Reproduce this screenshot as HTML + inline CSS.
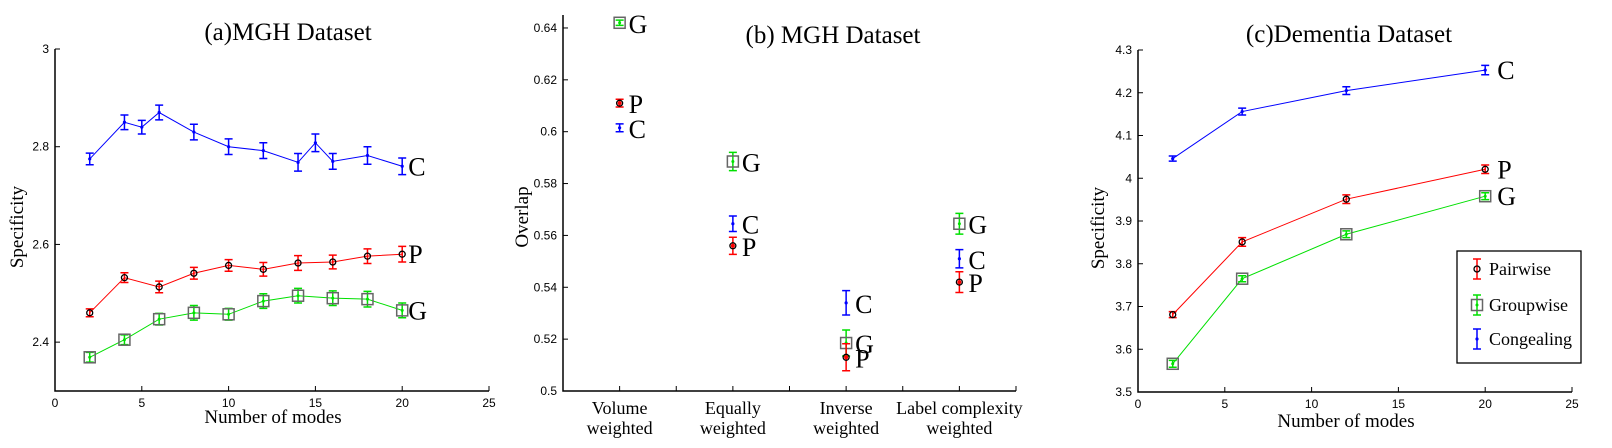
<!DOCTYPE html>
<html><head><meta charset="utf-8"><style>
html,body{margin:0;padding:0;background:#fff;}
svg{display:block;}
text{font-family:"Liberation Serif",serif;fill:#000;}
.tk{font-family:"Liberation Sans",sans-serif;font-size:12px;}
</style></head><body>
<svg id="fig" width="1612" height="448" viewBox="0 0 1612 448" xmlns="http://www.w3.org/2000/svg">
<g id="pa"></g>
<g id="pb"></g>
<g id="pc"></g>
</svg>
<script>
// Panel (a) data
const aCx = [2,4,5,6,8,10,12,14,15,16,18,20];
const aC = [2.775,2.85,2.84,2.87,2.83,2.80,2.792,2.768,2.808,2.77,2.782,2.76];
const aCerr = [0.012,0.015,0.014,0.015,0.016,0.016,0.016,0.018,0.018,0.016,0.018,0.017];
const aPx = [2,4,6,8,10,12,14,16,18,20];
const aP = [2.46,2.532,2.513,2.541,2.557,2.549,2.562,2.564,2.576,2.58];
const aPerr = [0.008,0.01,0.012,0.012,0.012,0.014,0.015,0.014,0.015,0.016];
const aG = [2.369,2.405,2.447,2.46,2.457,2.484,2.495,2.49,2.488,2.465];
const aGerr = [0.01,0.01,0.012,0.015,0.012,0.015,0.015,0.015,0.016,0.015];
const aXTicks = [0,5,10,15,20,25];
const aYTicks = [2.4,2.6,2.8,3];
// Panel (b) data
const bCats = [["Volume","weighted"],["Equally","weighted"],["Inverse","weighted"],["Label complexity","weighted"]];
const bG = [0.642,0.5885,0.5185,0.5645];
const bGerr = [0.001,0.0035,0.005,0.004];
const bP = [0.611,0.556,0.513,0.542];
const bPerr = [0.0015,0.0033,0.0052,0.004];
const bC = [0.6015,0.5645,0.534,0.551];
const bCerr = [0.0015,0.003,0.0047,0.0035];
const bYTicks = [0.5,0.52,0.54,0.56,0.58,0.6,0.62,0.64];
const bYLabels = ["0.5","0.52","0.54","0.56","0.58","0.6","0.62","0.64"];
// Panel (c) data
const cX = [2,6,12,20];
const cC = [4.046,4.156,4.205,4.253];
const cCerr = [0.006,0.008,0.009,0.011];
const cP = [3.681,3.851,3.951,4.021];
const cPerr = [0.007,0.01,0.01,0.01];
const cG = [3.566,3.765,3.869,3.958];
const cGerr = [0.008,0.007,0.008,0.008];
const cXTicks = [0,5,10,15,20,25];
const cYTicks = [3.5,3.6,3.7,3.8,3.9,4,4.1,4.2,4.3];

const NS="http://www.w3.org/2000/svg";
function mk(parent,tag,attrs,txt){const e=document.createElementNS(NS,tag);for(const k in attrs)e.setAttribute(k,attrs[k]);if(txt!==undefined)e.textContent=txt;parent.appendChild(e);return e;}
const COL={C:"#0000ff",P:"#ff0000",G:"#00e000"};

function axes(g,L,R,T,B,xs,ys,xt,yt,ytl){
  const ax=mk(g,'path',{d:`M${L},${T}L${L},${B}L${R},${B}`,fill:'none',stroke:'#000','stroke-width':1.5});
  
  
  if(xt) xt.forEach(v=>{const x=xs(v);mk(g,'line',{x1:x,x2:x,y1:B,y2:B-5,stroke:'#000'});
    const t=mk(g,'text',{x:x,y:B+16,'text-anchor':'middle',class:'tk'},String(v));
    
    });
  yt.forEach((v,i)=>{const y=ys(v);mk(g,'line',{x1:L,x2:L+5,y1:y,y2:y,stroke:'#000'});
    const t=mk(g,'text',{x:L-6,y:y+4,'text-anchor':'end',class:'tk'},ytl?ytl[i]:String(v));
    
    });
}
function errbar(g,x,y1,y2,col){mk(g,'path',{d:`M${x},${y1}L${x},${y2}M${x-4},${y1}L${x+4},${y1}M${x-4},${y2}L${x+4},${y2}`,stroke:col,'stroke-width':1.5,fill:'none'});}
function marker(g,type,x,y){
  if(type==='P'){mk(g,'circle',{cx:x,cy:y,r:3,fill:'none',stroke:'#000','stroke-width':1.3});}
  else if(type==='G'){mk(g,'rect',{x:x-5.5,y:y-5.5,width:11,height:11,fill:'none',stroke:'#666','stroke-width':1.5});mk(g,'circle',{cx:x,cy:y,r:1.5,fill:COL.G});}
  else {mk(g,'circle',{cx:x,cy:y,r:1.6,fill:COL.C});}
}
function series(g,name,type,xsArr,vals,errs,xs,ys,line,lblOff){
  const sg=mk(g,'g',{});
  
  
  if(line){let d='';xsArr.forEach((xv,i)=>{d+=(i?'L':'M')+xs(xv)+','+ys(vals[i]);});mk(sg,'path',{d:d,fill:'none',stroke:COL[type],'stroke-width':1});}
  xsArr.forEach((xv,i)=>{const x=xs(xv);errbar(sg,x,ys(vals[i]+errs[i]),ys(vals[i]-errs[i]),COL[type]);marker(sg,type,x,ys(vals[i]));});
  if(lblOff){const n=xsArr.length-1;const t=mk(sg,'text',{x:xs(xsArr[n])+lblOff,y:ys(vals[n])+9,'font-size':26},type);
    
    }
}
function title(g,x,y,s,name){const t=mk(g,'text',{x:x,y:y,'text-anchor':'middle','font-size':25},s);}
function ylab(g,x,y,s){const t=mk(g,'text',{x:0,y:0,'text-anchor':'middle','font-size':19,transform:`translate(${x},${y}) rotate(-90)`},s);}
function xlab(g,x,y,s){const t=mk(g,'text',{x:x,y:y,'text-anchor':'middle','font-size':19},s);}

// Panel a
(function(){
  const g=document.getElementById('pa');
  const L=55,R=489,T=49,B=391;
  const xs=v=>L+(v/25)*(R-L), ys=v=>B-(v-2.3)/0.7*(B-T);
  axes(g,L,R,T,B,xs,ys,aXTicks,aYTicks);
  title(g,288,40,"(a)MGH Dataset",'panel-a-title');
  ylab(g,23,227,"Specificity");
  xlab(g,273,423,"Number of modes");
  series(g,'series-congealing','C',aCx,aC,aCerr,xs,ys,true,6);
  series(g,'series-pairwise','P',aPx,aP,aPerr,xs,ys,true,6);
  series(g,'series-groupwise','G',aPx,aG,aGerr,xs,ys,true,6);
})();
// Panel b
(function(){
  const g=document.getElementById('pb');
  const L=563,R=1016,T=15,B=391;
  const xs=v=>L+(v+0.5)*((R-L)/4), ys=v=>B-(v-0.5)/0.145*(B-T);
  axes(g,L,R,T,B,xs,ys,null,bYTicks,bYLabels);
  for(let k=0;k<=7;k++){const x=L+(k+1)*(R-L)/8;mk(g,'line',{x1:x,x2:x,y1:B,y2:B-5,stroke:'#000'});}
  bCats.forEach((c,i)=>{const x=xs(i);
    const t=mk(g,'text',{x:x,y:414,'text-anchor':'middle','font-size':18},c[0]);
    
    
    const t2=mk(g,'text',{x:x,y:434,'text-anchor':'middle','font-size':18},c[1]);
    
    });
  title(g,833,43,"(b) MGH Dataset",'panel-b-title');
  ylab(g,528,217,"Overlap");
  const idx=bCats.map((c,i)=>i);
  [['series-groupwise','G',bG,bGerr],['series-pairwise','P',bP,bPerr],['series-congealing','C',bC,bCerr]].forEach(s=>{
    const sg=mk(g,'g',{});
    
    
    idx.forEach(i=>{const x=xs(i),y=ys(s[2][i]);errbar(sg,x,ys(s[2][i]+s[3][i]),ys(s[2][i]-s[3][i]),COL[s[1]]);marker(sg,s[1],x,y);
      if(s[1]==='P')mk(sg,'circle',{cx:x,cy:y,r:2,fill:COL.P});
      const t=mk(sg,'text',{x:x+9,y:y+10,'font-size':26},s[1]);
      
      });
  });
})();
// Panel c
(function(){
  const g=document.getElementById('pc');
  const L=1138,R=1572,T=50,B=392;
  const xs=v=>L+(v/25)*(R-L), ys=v=>B-(v-3.5)/0.8*(B-T);
  axes(g,L,R,T,B,xs,ys,cXTicks,cYTicks);
  title(g,1349,42,"(c)Dementia Dataset",'panel-c-title');
  ylab(g,1104,228,"Specificity");
  xlab(g,1346,427,"Number of modes");
  series(g,'series-congealing','C',cX,cC,cCerr,xs,ys,true,12);
  series(g,'series-pairwise','P',cX,cP,cPerr,xs,ys,true,12);
  series(g,'series-groupwise','G',cX,cG,cGerr,xs,ys,true,12);
  const lg=mk(g,'g',{});
  
  
  mk(lg,'rect',{x:1457,y:251,width:124,height:112,fill:'#fff',stroke:'#000','stroke-width':1.3});
  [['Pairwise','P',269],['Groupwise','G',305],['Congealing','C',339]].forEach(e=>{
    const eg=mk(lg,'g',{});
    
    
    errbar(eg,1477,e[2]-10,e[2]+10,COL[e[1]]);marker(eg,e[1],1477,e[2]);
    mk(eg,'text',{x:1489,y:e[2]+6,'font-size':18},e[0]);
  });
})();
</script>
</body></html>
